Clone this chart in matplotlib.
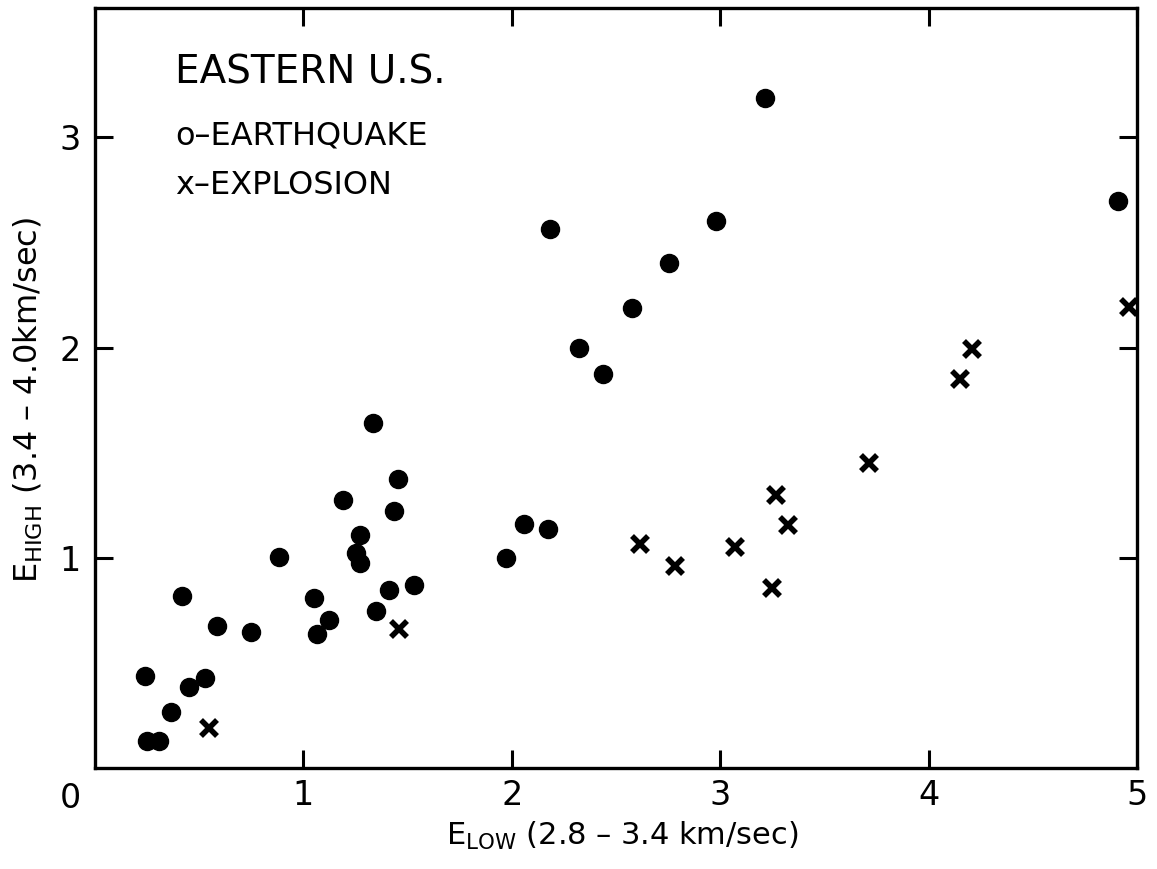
import matplotlib
matplotlib.use("Agg")
import matplotlib.pyplot as plt

# earthquake events: E_low, E_high
quake_low = [1.335, 1.452, 1.189, 1.433, 1.273, 0.884, 1.250, 1.271, 1.530, 1.413,
             0.416, 1.049, 1.350, 0.587, 1.124, 0.748, 1.063, 0.238, 0.526, 0.449,
             0.363, 0.248, 0.307, 3.213, 2.182, 2.978, 2.753, 2.576, 2.323, 2.438,
             2.059, 2.173, 1.971, 4.911]
quake_high = [1.639, 1.376, 1.274, 1.222, 1.107, 1.005, 1.021, 0.973, 0.872, 0.846,
              0.819, 0.807, 0.745, 0.675, 0.702, 0.645, 0.636, 0.437, 0.429, 0.387,
              0.268, 0.130, 0.130, 3.187, 2.564, 2.604, 2.403, 2.189, 1.999, 1.875,
              1.162, 1.138, 0.997, 2.698]

# explosion events
blast_low = [0.545, 1.460, 2.616, 2.784, 3.070, 3.270, 3.326, 3.247, 3.714, 4.152,
             4.208, 4.963]
blast_high = [0.189, 0.660, 1.065, 0.962, 1.051, 1.298, 1.155, 0.854, 1.449, 1.848,
              1.991, 2.192]

xticks = [1, 2, 3, 4, 5]
yticks = [1, 2, 3]

plt.rcParams['font.family'] = ['DejaVu Sans']
plt.rcParams['mathtext.fontset'] = 'dejavusans'

fig = plt.figure(figsize=(11.57, 8.69), dpi=100)
ax = fig.add_axes([95 / 1157, 1 - 768 / 869, (1137 - 95) / 1157, (768 - 8) / 869])

ax.plot(quake_low, quake_high, 'o', color='black', markersize=13, clip_on=False)
ax.plot(blast_low, blast_high, 'x', color='black', markersize=11, mew=4,
        clip_on=False)

ax.set_xlim(0, 5)
ax.set_ylim(0, 3.615)

for side in ['left', 'right', 'top', 'bottom']:
    ax.spines[side].set_linewidth(2.4)

ax.set_xticks(xticks)
ax.set_xticklabels([str(t) for t in xticks])
ax.set_yticks(yticks)
ax.set_yticklabels([str(t) for t in yticks])
ax.tick_params(direction='in', length=13, width=2.2, labelsize=24,
               top=True, right=True, pad=10)
ax.tick_params(axis='x', pad=8)

# shared origin label sits off the corner
ax.text(-0.024, -0.040, '0', transform=ax.transAxes, fontsize=24,
        ha='center', va='center')

ax.text(0.077, 0.915, 'EASTERN U.S.', transform=ax.transAxes, fontsize=28,
        ha='left', va='center')
ax.text(0.077, 0.832, 'o–EARTHQUAKE', transform=ax.transAxes, fontsize=23,
        ha='left', va='center')
ax.text(0.077, 0.766, 'x–EXPLOSION', transform=ax.transAxes, fontsize=23,
        ha='left', va='center')

fig.text(622 / 1157, 1 - 836 / 869, r'E$_{\mathrm{LOW}}$ (2.8 – 3.4 km/sec)',
         fontsize=22, ha='center', va='center')
fig.text(28 / 1157, 1 - 400 / 869, r'E$_{\mathrm{HIGH}}$ (3.4 – 4.0km/sec)',
         fontsize=23, ha='center', va='center', rotation=90)

fig.savefig('out.png', dpi=100)
